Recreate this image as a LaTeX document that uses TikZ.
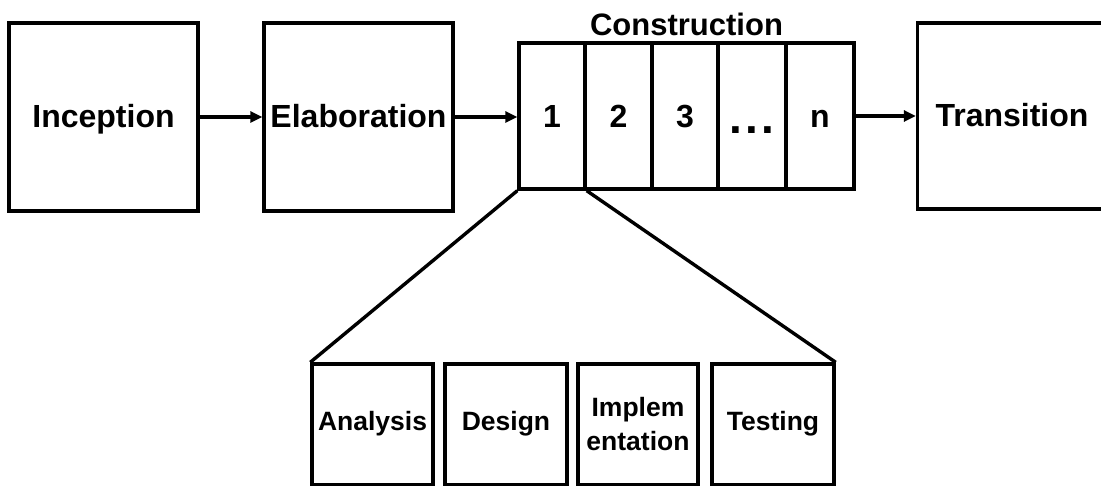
\documentclass[tikz,border=0pt]{standalone}
\usepackage{fontspec}
\setmainfont{Liberation Sans}
\usetikzlibrary{arrows.meta}
\begin{document}
\begin{tikzpicture}[x=1pt,y=-1pt,
  box/.style={draw, line width=3.4pt, inner sep=0pt, align=center},
  big/.style={font=\bfseries\fontsize{32}{38}\selectfont},
  phase/.style={box, big, minimum width=189pt, minimum height=188pt,
    text height=27pt, text depth=5pt},
  cell/.style={box, big, minimum height=146pt,
    text height=28pt, text depth=4pt},
  task/.style={box, minimum height=121pt,
    font=\bfseries\fontsize{26.5}{34}\selectfont},
  flow/.style={line width=3.4pt, -{Triangle[length=12pt,width=11pt]}},
  fan/.style={line width=3.4pt}]
\useasboundingbox (0,0) rectangle (1101,486);

% phases
\node[phase] (inc) at (103.5,117) {Inception};
\node[phase] (ela) at (358.5,117) {Elaboration};
\node[phase, minimum height=186pt] (tra) at (1012,116) {Transition};

% construction iterations
\node[cell, minimum width=66pt] (c1) at (552,116) {1};
\node[cell, minimum width=67pt] (c2) at (618.5,116) {2};
\node[cell, minimum width=66pt] (c3) at (685,116) {3};
\node[cell, minimum width=68pt] (c4) at (752,116)
  {\raisebox{-6pt}{\fontsize{46}{46}\selectfont .\kern3pt.\kern3pt.}};
\node[cell, minimum width=68pt] (cn) at (820,116) {n};
\node[font=\bfseries\fontsize{31}{36}\selectfont, anchor=base, inner sep=0pt]
  (con) at (686.5,36) {Construction};

% activities of one iteration
\node[task, minimum width=121pt, text height=21pt, text depth=8pt] (an) at (372.5,424.5) {Analysis};
\node[task, minimum width=122pt, text height=21pt, text depth=8pt] (de) at (506,424.5) {Design};
\node[task, minimum width=120pt] (im) at (638,424.5) {Implem\\entation};
\node[task, minimum width=122pt, text height=21pt, text depth=8pt] (te) at (773,424.5) {Testing};

% connectors
\draw[flow] (inc.east) -- (inc.east -| ela.west);
\draw[flow] (ela.east) -- (ela.east -| c1.west);
\draw[flow] (cn.east) -- (cn.east -| tra.west);
\draw[fan] (c1.south west) -- (an.north west);
\draw[fan] (c1.south east) -- (te.north east);
\end{tikzpicture}
\end{document}
